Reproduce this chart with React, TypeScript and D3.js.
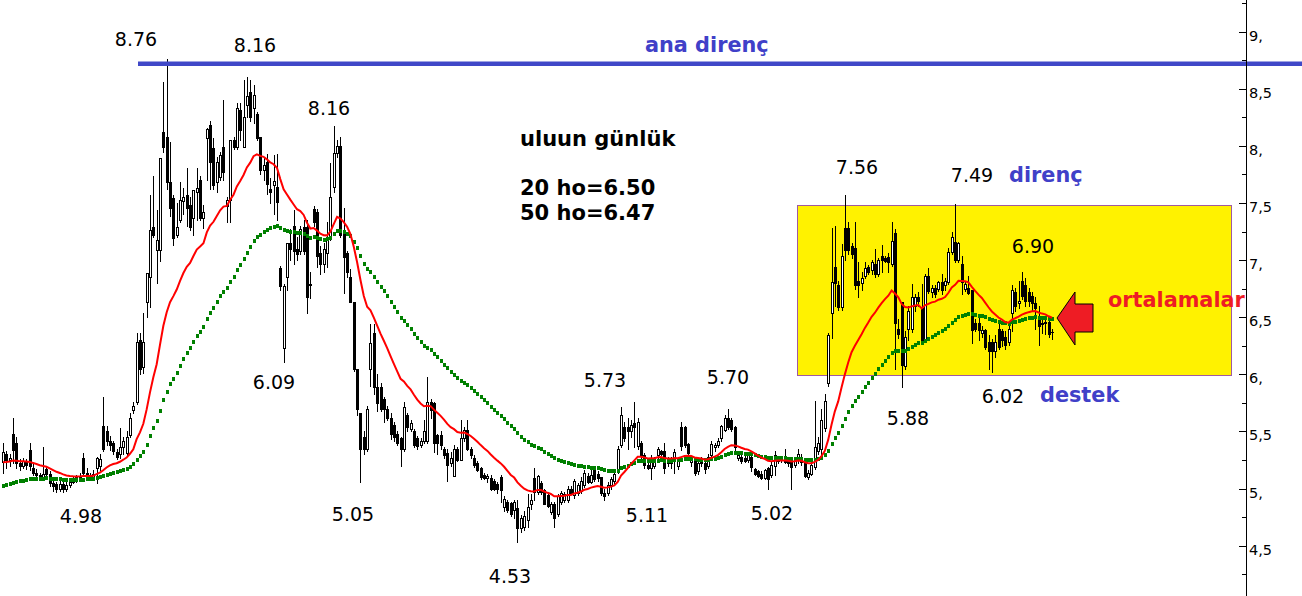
import React from 'react';
import * as d3 from 'd3';

// ---- data ----
const opens = [
5.23,5.30,5.25,5.48,5.40,5.22,5.20,5.24,5.34,5.18,
5.14,5.12,5.10,5.17,5.13,5.05,5.04,5.00,5.04,5.00,
5.03,5.06,5.08,5.10,5.27,5.14,5.12,5.10,5.18,5.20,
5.55,5.50,5.42,5.40,5.32,5.30,5.36,5.31,5.47,5.69,
5.76,6.30,6.06,6.63,6.85,7.29,7.09,7.09,
8.12,8.08,7.68,7.54,7.22,7.35,7.52,7.57,7.48,7.37,
7.60,7.70,7.37,8.07,8.18,7.98,7.68,7.73,7.99,7.47,
7.53,8.05,7.99,8.31,7.99,8.36,8.47,8.33,8.28,8.08,
7.79,7.86,7.62,7.66,7.64,6.93,6.23,6.85,7.15,7.30,
7.10,7.08,7.29,7.29,6.78,7.45,7.42,7.06,6.97,7.06,
7.20,7.64,7.94,8.00,7.26,7.06,6.85,6.63,6.05,5.66,
5.45,5.35,6.05,6.36,5.89,5.89,5.78,5.70,5.62,5.56,
5.48,5.44,5.35,5.64,5.52,5.50,5.44,5.38,5.42,5.42,
5.76,5.75,5.47,5.47,5.35,5.31,5.22,5.11,5.35,5.25,
5.44,5.51,5.35,5.27,5.22,5.18,5.12,5.09,5.09,5.07,
5.04,5.10,4.84,4.88,4.87,4.81,4.83,4.65,4.66,4.72,
4.86,5.09,4.97,5.05,4.99,4.94,4.79,4.86,4.78,4.88,
4.90,4.90,5.00,4.94,4.96,4.98,5.03,5.11,5.06,5.17,
5.13,5.10,4.96,4.96,5.03,5.07,5.16,5.38,5.54,5.54,
5.50,5.57,5.37,5.40,5.29,5.21,5.18,5.20,5.29,5.33,
5.33,5.26,5.22,5.27,5.20,5.54,5.54,5.39,5.23,5.27,
5.15,5.25,5.22,5.20,5.29,5.36,5.38,5.44,5.51,5.62,
5.60,5.54,5.27,5.28,5.27,5.25,5.28,5.17,5.15,5.13,
5.09,5.18,5.12,5.20,5.24,5.27,5.26,5.25,5.24,5.21,
5.25,5.28,5.22,5.10,5.13,5.19,5.33,5.35,5.53,5.92,
6.54,6.94,6.78,6.59,7.28,7.28,7.12,7.11,6.82,6.80,
6.86,6.94,6.91,6.97,6.88,7.04,7.02,7.03,6.97,7.24,
6.40,6.63,6.07,6.40,6.40,6.60,6.68,6.58,6.30,6.86,
6.72,6.76,6.75,6.81,6.78,6.81,7.07,7.16,7.00,6.97,
6.75,6.76,6.74,6.45,6.45,6.36,6.39,6.28,6.28,6.20,
6.40,6.38,6.33,6.28,6.54,6.72,6.62,6.82,6.78,6.72,
6.69,6.62,6.49,6.45,6.45,6.46,6.37];

const highs = [
5.40,5.33,5.30,5.62,5.45,5.26,5.27,5.26,5.40,5.22,
5.17,5.14,5.36,5.20,5.15,5.08,5.06,5.07,5.06,5.08,
5.08,5.10,5.12,5.14,5.31,5.18,5.14,5.16,5.28,5.30,
5.80,5.55,5.46,5.42,5.35,5.53,5.45,5.50,5.66,5.76,
6.36,6.36,6.54,6.89,7.57,7.74,7.44,7.89,
8.56,8.76,8.03,7.57,7.50,7.68,7.63,7.81,7.55,7.61,
7.81,7.74,7.48,8.16,8.22,8.07,7.90,7.95,8.40,7.55,
8.05,8.08,8.38,8.38,8.58,8.60,8.58,8.53,8.30,8.08,
7.90,7.93,7.72,7.92,7.93,6.95,6.79,7.15,7.27,7.44,
7.20,7.30,7.35,7.35,6.90,7.47,7.45,7.12,7.15,7.33,
7.85,8.17,8.05,8.08,7.46,7.08,6.92,6.63,6.05,5.66,
5.50,5.72,6.44,6.44,6.00,5.92,5.80,5.72,5.66,5.58,
5.50,5.45,5.76,5.66,5.60,5.52,5.46,5.44,5.60,5.98,
5.78,5.76,5.48,5.50,5.36,5.35,5.32,5.38,5.36,5.60,
5.54,5.60,5.36,5.29,5.24,5.19,5.14,5.13,5.12,5.08,
5.06,5.12,4.93,4.90,4.88,4.90,4.90,4.77,4.80,4.95,
4.95,5.18,5.12,5.07,5.00,4.97,4.88,4.88,4.95,4.98,
4.97,5.02,5.02,5.08,5.05,5.10,5.16,5.14,5.16,5.20,
5.15,5.10,5.00,5.06,5.10,5.14,5.37,5.71,5.58,5.62,
5.60,5.76,5.62,5.42,5.31,5.22,5.29,5.28,5.36,5.34,
5.40,5.28,5.28,5.35,5.25,5.58,5.55,5.40,5.28,5.28,
5.24,5.28,5.25,5.30,5.42,5.40,5.44,5.56,5.64,5.70,
5.62,5.55,5.30,5.32,5.29,5.30,5.30,5.18,5.16,5.15,
5.17,5.19,5.24,5.33,5.27,5.28,5.35,5.27,5.25,5.26,
5.35,5.30,5.23,5.16,5.24,5.77,5.45,5.70,5.83,6.36,
7.28,7.30,6.82,7.14,7.57,7.33,7.15,7.33,6.98,6.90,
6.98,6.96,7.00,7.10,7.02,7.13,7.04,7.06,7.33,7.27,
6.48,6.63,6.38,6.60,6.79,6.70,6.72,6.79,6.88,6.93,
6.78,6.78,6.82,6.88,6.84,7.11,7.25,7.49,7.16,7.04,
6.82,6.86,6.74,6.48,6.50,6.42,6.40,6.34,6.31,6.34,
6.44,6.40,6.38,6.45,6.78,6.76,6.82,6.90,6.84,6.76,
6.72,6.68,6.60,6.50,6.49,6.49,6.40];

const lows = [
5.14,5.18,5.20,5.22,5.18,5.16,5.18,5.17,5.16,5.12,
5.10,5.08,5.08,5.10,5.02,4.98,4.97,4.98,4.97,4.98,
5.01,5.05,5.06,5.08,5.12,5.08,5.08,5.09,5.05,5.16,
5.33,5.38,5.34,5.30,5.26,5.27,5.30,5.29,5.45,5.66,
5.74,6.00,6.01,6.50,6.59,7.20,6.80,6.99,
7.95,7.62,7.39,7.13,7.20,7.33,7.40,7.30,7.26,7.22,
7.35,7.35,7.28,7.70,7.62,7.62,7.60,7.70,7.70,7.33,
7.33,7.97,7.97,8.05,7.99,8.25,8.22,8.20,8.05,7.75,
7.70,7.58,7.50,7.40,7.35,6.74,6.11,6.74,7.00,6.97,
7.00,7.05,7.05,6.54,6.67,7.30,6.94,6.88,6.90,6.94,
7.18,7.60,7.90,7.20,6.71,6.85,6.63,6.03,5.64,5.06,
5.30,5.33,5.90,5.83,5.68,5.68,5.58,5.60,5.43,5.42,
5.38,5.20,5.33,5.50,5.50,5.36,5.35,5.36,5.40,5.40,
5.62,5.32,5.30,5.35,5.27,5.07,5.20,5.11,5.24,5.25,
5.42,5.34,5.27,5.19,5.15,5.08,5.08,5.06,4.99,4.99,
4.96,4.88,4.80,4.79,4.76,4.74,4.53,4.62,4.64,4.66,
4.82,4.90,4.95,4.95,4.86,4.84,4.78,4.66,4.76,4.86,
4.88,4.88,4.95,4.92,4.94,4.96,5.01,5.05,5.05,5.07,
5.07,4.94,4.90,4.94,5.00,5.05,5.14,5.36,5.42,5.35,
5.45,5.36,5.35,5.27,5.18,5.17,5.08,5.18,5.23,5.29,
5.14,5.20,5.18,5.14,5.17,5.34,5.36,5.30,5.20,5.12,
5.13,5.20,5.14,5.18,5.27,5.33,5.36,5.42,5.50,5.52,
5.50,5.33,5.25,5.22,5.23,5.23,5.15,5.12,5.10,5.08,
5.08,5.00,5.10,5.12,5.22,5.23,5.22,5.20,5.00,5.19,
5.22,5.21,5.10,5.08,5.12,5.17,5.30,5.28,5.50,5.90,
6.32,6.60,6.56,6.56,7.00,7.05,7.02,6.75,6.68,6.74,
6.84,6.88,6.88,6.85,6.86,6.90,6.98,6.90,6.95,6.05,
6.32,5.89,6.05,6.30,6.37,6.55,6.60,6.27,6.28,6.71,
6.68,6.68,6.73,6.70,6.74,6.79,7.05,6.98,6.98,6.70,
6.73,6.70,6.27,6.38,6.30,6.33,6.22,6.05,6.02,6.15,
6.22,6.25,6.22,6.26,6.38,6.55,6.58,6.66,6.60,6.60,
6.56,6.40,6.26,6.36,6.35,6.33,6.31];

const closes = [
5.32,5.25,5.27,5.34,5.22,5.20,5.24,5.21,5.20,5.14,
5.12,5.10,5.13,5.13,5.05,5.02,5.00,5.04,5.00,5.03,
5.06,5.08,5.10,5.11,5.14,5.12,5.10,5.13,5.27,5.26,
5.35,5.42,5.38,5.33,5.28,5.36,5.42,5.45,5.62,5.72,
6.28,6.05,6.28,6.89,7.26,7.22,7.18,7.89,
7.99,7.68,7.46,7.19,7.29,7.53,7.55,7.46,7.29,7.61,
7.63,7.37,7.42,8.15,7.86,7.66,7.86,7.92,7.77,7.53,
8.05,7.99,8.33,8.14,8.25,8.44,8.25,8.45,8.07,7.79,
7.83,7.67,7.60,7.69,7.51,6.77,6.77,7.15,7.10,7.08,
7.05,7.27,7.08,6.68,6.79,7.33,7.04,6.97,7.10,7.20,
7.55,7.94,8.00,7.22,7.03,6.90,6.63,6.05,5.70,5.35,
5.35,5.70,6.27,5.89,5.75,5.70,5.70,5.62,5.48,5.45,
5.40,5.35,5.71,5.54,5.57,5.38,5.37,5.42,5.50,5.76,
5.69,5.40,5.40,5.38,5.29,5.21,5.27,5.35,5.25,5.44,
5.51,5.35,5.29,5.21,5.16,5.10,5.09,5.11,5.00,5.00,
5.00,4.99,4.91,4.81,4.78,4.88,4.65,4.74,4.76,4.84,
4.90,4.97,5.11,4.97,4.86,4.85,4.86,4.74,4.93,4.96,
4.95,5.00,4.96,5.07,5.03,5.07,5.14,5.06,5.12,5.08,
5.09,4.96,4.93,5.03,5.08,5.13,5.35,5.64,5.44,5.50,
5.56,5.54,5.58,5.29,5.21,5.18,5.27,5.27,5.35,5.30,
5.18,5.22,5.26,5.32,5.24,5.37,5.38,5.31,5.27,5.14,
5.22,5.22,5.17,5.28,5.39,5.38,5.42,5.55,5.62,5.54,
5.52,5.36,5.29,5.24,5.24,5.29,5.19,5.13,5.11,5.09,
5.16,5.08,5.21,5.29,5.26,5.25,5.23,5.22,5.19,5.25,
5.30,5.23,5.11,5.14,5.21,5.36,5.40,5.60,5.77,6.34,
6.81,6.80,6.59,7.04,7.09,7.09,7.05,6.78,6.78,6.84,
6.93,6.90,6.98,6.88,7.00,7.00,6.99,6.98,7.17,6.45,
6.35,6.08,6.33,6.55,6.68,6.68,6.64,6.30,6.86,6.73,
6.76,6.70,6.81,6.74,6.82,7.07,7.20,7.00,7.15,6.81,
6.79,6.71,6.39,6.40,6.39,6.39,6.24,6.20,6.20,6.28,
6.24,6.30,6.26,6.40,6.74,6.60,6.64,6.69,6.64,6.64,
6.62,6.58,6.42,6.44,6.46,6.35,6.37];

// starting values of the two averages at the first visible bar
const ema20Start = 5.23;
const ema50Start = 5.02;

const yTickValues = [4.5, 5, 5.5, 6, 6.5, 7, 7.5, 8, 8.5, 9];
const yTickLabels = ['4,5', '5,', '5,5', '6,', '6,5', '7,', '7,5', '8,', '8,5', '9,'];
const minorTickValues = [4.25, 4.75, 5.25, 5.75, 6.25, 6.75, 7.25, 7.75, 8.25, 8.75, 9.25];

const mainResistance = 8.72;
const rangeTop = 7.48;
const rangeBottom = 5.99;

const peakLabels = ['8.76', '8.16', '8.16', '6.09', '4.98', '5.05', '4.53', '5.73', '5.70', '5.11', '5.02', '7.56', '7.49', '6.90', '5.88', '6.02'];
const infoLines = ['uluun günlük', '20 ho=6.50', '50 ho=6.47'];
const noteTexts = { mainRes: 'ana direnç', res: 'direnç', sup: 'destek', avg: 'ortalamalar' };

// ---- layout ----
const W = 1302, H = 596;
const peakLabelPos: [number, number][] = [
  [136, 46], [255, 52], [329, 115], [274, 389], [81, 523], [353, 521], [510, 583],
  [605, 387], [728, 384], [647, 522], [772, 520], [857, 174], [972, 182], [1033, 253],
  [908, 425], [1003, 403],
];

function ema(values: number[], period: number, start: number) {
  const a = 2 / (period + 1);
  const out: number[] = [];
  let e = start;
  values.forEach((v, i) => {
    if (i > 0) e = e + a * (v - e);
    out.push(e);
  });
  return out;
}

export default function App() {
  const N = closes.length;
  const x = d3.scaleLinear().domain([0, N - 1]).range([3, 1052]);
  const y = d3.scaleLinear().domain([4.5, 9]).range([545.6, 31.7]);
  const ma20 = ema(closes, 20, ema20Start);
  const ma50 = ema(closes, 50, ema50Start);
  const redLine = d3.line<number>().x((_, i) => x(i)).y((d) => y(d))(ma20) || '';
  const axisX = 1246.5;
  const font = '"DejaVu Sans", Verdana, sans-serif';

  return (
    <div>
      <style>{'body{margin:0;}'}</style>
      <svg width={W} height={H} style={{ display: 'block', background: '#fff' }}>
        {/* range box */}
        <rect x={797.5} y={Math.round(y(rangeTop)) + 0.5} width={434} height={Math.round(y(rangeBottom)) - Math.round(y(rangeTop))}
          fill="#fff200" stroke="#a05aa0" strokeWidth={1} shapeRendering="crispEdges" />

        {/* candles */}
        <g shapeRendering="crispEdges">
          {closes.map((c, i) => {
            const o = opens[i];
            const cx = Math.round(x(i));
            const yh = Math.round(y(highs[i]));
            const yl = Math.round(y(lows[i]));
            const yt = Math.round(y(Math.max(o, c)));
            const yb = Math.round(y(Math.min(o, c)));
            const up = c >= o;
            return (
              <g key={i}>
                <line x1={cx + 0.5} x2={cx + 0.5} y1={yh} y2={yl + 1} stroke="#000" strokeWidth={1} />
                {yb - yt < 1 ? (
                  <line x1={cx - 1} x2={cx + 2} y1={yt + 0.5} y2={yt + 0.5} stroke="#000" strokeWidth={1} />
                ) : (
                  <rect x={cx - 0.5} y={yt + 0.5} width={2} height={yb - yt}
                    fill={up ? '#fff' : '#000'} stroke="#000" strokeWidth={1} />
                )}
              </g>
            );
          })}
        </g>

        {/* 50 average: dotted squares */}
        <g fill="#008000" shapeRendering="crispEdges">
          {ma50.map((v, i) => (
            <rect key={i} x={Math.round(x(i)) - 1} y={Math.round(y(v)) - 2} width={3} height={4} />
          ))}
        </g>
        {/* 20 average */}
        <path d={redLine} fill="none" stroke="#ff0000" strokeWidth={2} />

        {/* main resistance */}
        <line x1={138} x2={W} y1={y(mainResistance)} y2={y(mainResistance)} stroke="#4048c8" strokeWidth={4.5} />

        {/* arrow */}
        <polygon points="1057,318 1075,292 1075,304 1093,304 1093,332 1075,332 1075,345"
          fill="#ee1c24" stroke="#000" strokeWidth={1} />

        {/* right axis */}
        <line x1={axisX} x2={axisX} y1={0} y2={H} stroke="#000" strokeWidth={1} shapeRendering="crispEdges" />
        <g shapeRendering="crispEdges">
          {yTickValues.map((v) => (
            <line key={'M' + v} x1={1239} x2={axisX} y1={Math.round(y(v)) + 0.5} y2={Math.round(y(v)) + 0.5} stroke="#000" />
          ))}
          {minorTickValues.map((v) => (
            <line key={'m' + v} x1={1242} x2={axisX} y1={Math.round(y(v)) + 0.5} y2={Math.round(y(v)) + 0.5} stroke="#000" />
          ))}
        </g>
        {yTickValues.map((v, i) => (
          <text key={'t' + v} x={1249} y={y(v) + 9} fontFamily={font} fontSize={14.5} fill="#000">{yTickLabels[i]}</text>
        ))}

        {/* peak / trough labels */}
        {peakLabels.map((t, i) => (
          <text key={'p' + i} x={peakLabelPos[i][0]} y={peakLabelPos[i][1]} textAnchor="middle"
            fontFamily={font} fontSize={19} fill="#000">{t}</text>
        ))}

        {/* info text */}
        <g fontFamily={font} fontSize={21} fontWeight="bold" fill="#000">
          <text x={520} y={146}>{infoLines[0]}</text>
          <text x={520} y={195}>{infoLines[1]}</text>
          <text x={520} y={220}>{infoLines[2]}</text>
        </g>
        <g fontFamily={font} fontSize={20.8} fontWeight="bold">
          <text x={645} y={52} fill="#4040c8">{noteTexts.mainRes}</text>
          <text x={1009} y={182} fill="#4040c8">{noteTexts.res}</text>
          <text x={1040} y={402} fill="#4040c8">{noteTexts.sup}</text>
          <text x={1108} y={307} fill="#ee1c24">{noteTexts.avg}</text>
        </g>
      </svg>
    </div>
  );
}
